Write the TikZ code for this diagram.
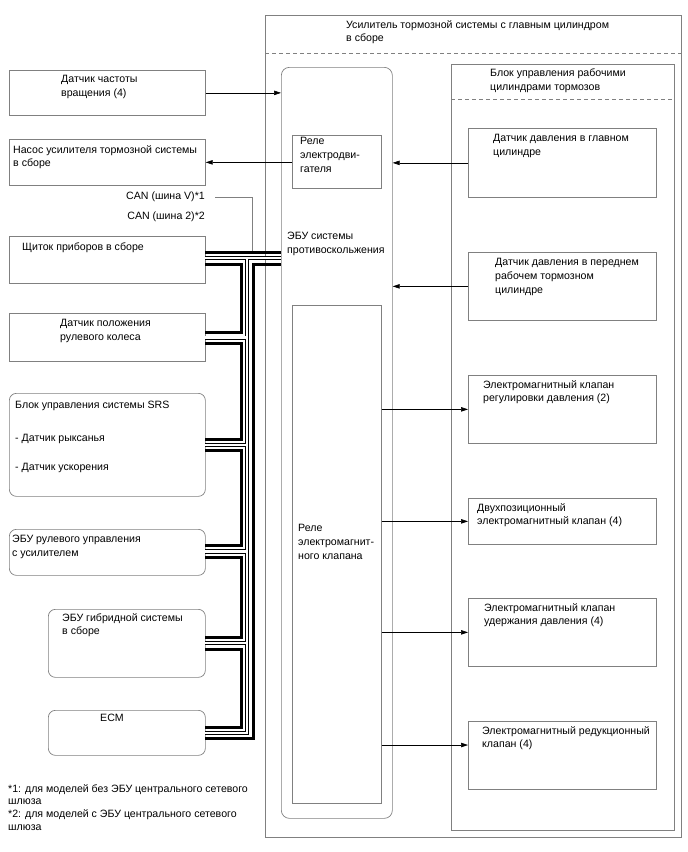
\documentclass[tikz,border=0pt]{standalone}
\usepackage{fontspec}
\setmainfont{Liberation Sans}
\usetikzlibrary{arrows.meta}

\definecolor{boxgray}{RGB}{128,128,128}
\newcommand{\lbl}{\fontsize{10.6}{13.8}\selectfont}

\begin{document}
\begin{tikzpicture}[x=1pt,y=1pt,yscale=-1,
  box/.style={draw=boxgray, line width=0.7pt, anchor=north west, inner sep=0pt},
  rbox/.style={box, rounded corners=7pt},
  txt/.style={anchor=north west, inner sep=0pt, align=left, font=\lbl, execute at begin node=\strut},
  sep/.style={draw=boxgray, line width=0.7pt, dash pattern=on 4pt off 3pt},
  arr/.style={draw=black, line width=0.6pt, -{Triangle[length=7pt,width=4.5pt]}},
  lead/.style={draw=boxgray, line width=0.8pt},
  canv/.style={line width=3pt, line join=miter},
  can2/.style={double, line width=0.7pt, double distance=2.7pt, line join=miter}]
\useasboundingbox (0,0) rectangle (688,852);

%Shape: Rectangle (left units)
\node[box, minimum width=196, minimum height=45] (speed) at (9,70) {};
\node[box, minimum width=196, minimum height=46] (pump) at (9,139) {};
\node[box, minimum width=196, minimum height=47] (cluster) at (9,236) {};
\node[box, minimum width=196, minimum height=48] (sas) at (9,313) {};
\node[rbox, minimum width=196, minimum height=103] (srs) at (9,393) {};
\node[rbox, minimum width=196, minimum height=46] (eps) at (9,529) {};
\node[rbox, minimum width=157, minimum height=68] (hv) at (48,609) {};
\node[rbox, minimum width=157, minimum height=45] (ecm) at (48,710) {};

%Shape: Rectangle (brake booster)
\node[box, minimum width=416, minimum height=822] (booster) at (265,15) {};
\coordinate (boosterSep) at (0,53);
\draw[sep] (booster.west |- boosterSep) -- (booster.east |- boosterSep);
\node[rbox, rounded corners=8pt, minimum width=111, minimum height=751] (ecu) at (281,67) {};
\node[box, minimum width=89, minimum height=53] (relayM) at (292,135) {};
\node[box, minimum width=89, minimum height=498] (relayS) at (292,305) {};

\node[box, minimum width=223, minimum height=766] (actr) at (451,64) {};
\coordinate (actrSep) at (0,99);
\draw[sep] (actr.west |- actrSep) -- (actr.east |- actrSep);
\node[box, minimum width=188, minimum height=69] (msens) at (468,128) {};
\node[box, minimum width=188, minimum height=68] (fsens) at (468,252) {};
\node[box, minimum width=188, minimum height=68] (v1) at (468,375) {};
\node[box, minimum width=188, minimum height=46] (v2) at (468,498) {};
\node[box, minimum width=188, minimum height=68] (v3) at (468,598) {};
\node[box, minimum width=188, minimum height=68] (v4) at (468,721) {};
\coordinate (v4in) at (468,745);

% Text Node
\node[txt] (speedT) at (61,75) {Датчик частоты\\вращения (4)};
\node[txt] (pumpT) at (13,145) {Насос усилителя тормозной системы\\в сборе};
\node[txt, anchor=north east] (canV) at (205,190) {CAN (шина V)*1};
\node[txt, anchor=north east] (can2) at (205,210) {CAN (шина 2)*2};
\node[txt] (clusterT) at (22,241) {Щиток приборов в сборе};
\node[txt] (sasT) at (60,319) {Датчик положения\\рулевого колеса};
\node[txt] (srsT) at (15,399) {Блок управления системы SRS};
\node[txt] (srsY) at (15,432) {- Датчик рыксанья};
\node[txt] (srsG) at (15,461) {- Датчик ускорения};
\node[txt] (epsT) at (12,535) {ЭБУ рулевого управления\\с усилителем};
\node[txt] (hvT) at (62,613) {ЭБУ гибридной системы\\в сборе};
\node[txt, anchor=north] (ecmT) at (112,712) {ECM};
\node[txt, font=\fontsize{10.6}{12.7}\selectfont] (notes) at (8,784) {*1: для моделей без ЭБУ центрального сетевого\\шлюза\\*2: для моделей с ЭБУ центрального сетевого\\шлюза};

\node[txt] (boosterT) at (346,20) {Усилитель тормозной системы с главным цилиндром\\в сборе};
\node[txt] (ecuT) at (287,232) {ЭБУ системы\\противоскольжения};
\node[txt] (relayMT) at (300,137) {Реле\\электродви-\\гателя};
\node[txt] (relayST) at (298,524) {Реле\\электромагнит-\\ного клапана};
\node[txt] (actrT) at (490,69) {Блок управления рабочими\\цилиндрами тормозов};
\node[txt] (msensT) at (493,134) {Датчик давления в главном\\цилиндре};
\node[txt] (fsensT) at (495,258) {Датчик давления в переднем\\рабочем тормозном\\цилиндре};
\node[txt] (v1T) at (483,380) {Электромагнитный клапан\\регулировки давления (2)};
\node[txt] (v2T) at (477,503) {Двухпозиционный\\электромагнитный клапан (4)};
\node[txt] (v3T) at (484,603) {Электромагнитный клапан\\удержания давления (4)};
\node[txt] (v4T) at (482,726) {Электромагнитный редукционный\\клапан (4)};

%Straight Lines (signals)
\draw[arr] (speed.east) -- (speed.east -| ecu.west);
\draw[arr] (relayM.west |- pump.east) -- (pump.east);
\draw[arr] (msens.west) -- (msens.west -| ecu.east);
\draw[arr] (fsens.west) -- (fsens.west -| ecu.east);
\draw[arr] (relayS.east |- v1.west) -- (v1.west);
\draw[arr] (relayS.east |- v2.west) -- (v2.west);
\draw[arr] (relayS.east |- v3.west) -- (v3.west);
\draw[arr] (relayS.east |- v4in) -- (v4in);

% CAN bus columns and ports
\coordinate (colA) at (241,0);
\coordinate (colB) at (247,0);
\coordinate (colC) at (253,0);
\coordinate (colD) at (252,0);
\coordinate (clA) at (205,252.5);
\coordinate (clB) at (205,258);
\coordinate (clC) at (205,264);
\coordinate (saA) at (205,332);
\coordinate (saB) at (205,337.7);
\coordinate (saC) at (205,343.5);
\coordinate (srA) at (205,439.5);
\coordinate (srB) at (205,445);
\coordinate (srC) at (205,450.5);
\coordinate (epA) at (205,545.5);
\coordinate (epB) at (205,551.5);
\coordinate (epC) at (205,557.5);
\coordinate (hvA) at (205,637);
\coordinate (hvB) at (205,643);
\coordinate (hvC) at (205,649);
\coordinate (ecA) at (205,727.5);
\coordinate (ecB) at (205,733);
\coordinate (ecC) at (205,738.5);

\draw[lead, shorten <=10pt] (canV.east) -| (clA -| colD);

% CAN bus 2
\draw[can2] (clB) -- (clB -| ecu.west) (clB -| colB) |- (ecB)
  (saB) -- (saB -| colB) (srB) -- (srB -| colB)
  (epB) -- (epB -| colB) (hvB) -- (hvB -| colB);

% CAN bus V
\draw[canv] (clA) -- (clA -| ecu.west);
\draw[canv] (clC) -- (clC -| colA) |- (saA);
\draw[canv] (saC) -- (saC -| colA) |- (srA);
\draw[canv] (srC) -- (srC -| colA) |- (epA);
\draw[canv] (epC) -- (epC -| colA) |- (hvA);
\draw[canv] (hvC) -- (hvC -| colA) |- (ecA);
\draw[canv] (ecC) -- (ecC -| colC) |- (clC -| ecu.west);
\end{tikzpicture}
\end{document}
